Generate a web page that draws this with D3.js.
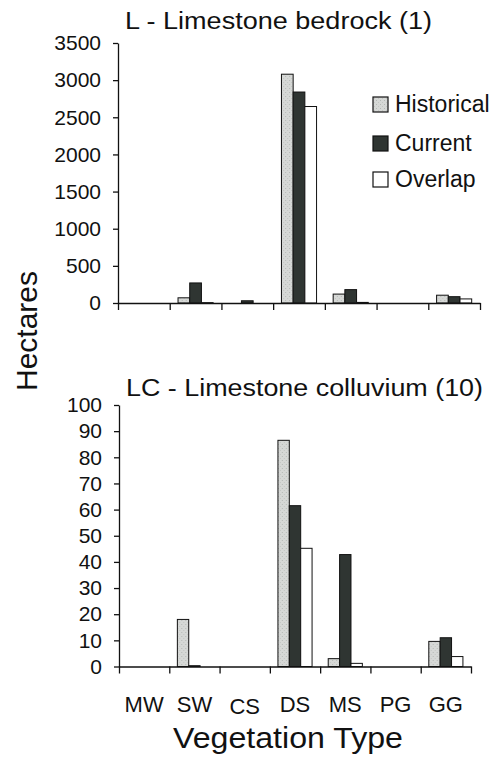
<!DOCTYPE html>
<html>
<head>
<meta charset="utf-8">
<script src="https://cdn.jsdelivr.net/npm/d3@7"></script>
<style>
  html, body { margin: 0; padding: 0; background: #fff; }
  svg { display: block; font-family: "Liberation Sans", Arial, sans-serif; }
</style>
</head>
<body>
<svg id="chart" width="496" height="770"></svg>
<script>
// ---- data ----
const categories = ["MW", "SW", "CS", "DS", "MS", "PG", "GG"];
const seriesNames = ["Historical", "Current", "Overlap"];

const bedrockHistorical = [0, 70, 0, 3080, 120, 0, 105];
const bedrockCurrent    = [0, 270, 30, 2840, 180, 0, 85];
const bedrockOverlap    = [0, 5, 0, 2645, 8, 0, 55];
const bedrockTicks = [0, 500, 1000, 1500, 2000, 2500, 3000, 3500];

const colluviumHistorical = [0, 18, 0, 86.5, 3, 0, 9.6];
const colluviumCurrent    = [0, 0.3, 0, 61.5, 42.8, 0, 11];
const colluviumOverlap    = [0, 0, 0, 45.2, 1.2, 0, 3.8];
const colluviumTicks = [0, 10, 20, 30, 40, 50, 60, 70, 80, 90, 100];

const titleTop = "L - Limestone bedrock (1)";
const titleBottom = "LC - Limestone colluvium (10)";

const fills = { Historical: "url(#stipple)", Current: "#2f3532", Overlap: "#ffffff" };

const svg = d3.select("#chart");

// stipple pattern for historical bars
const defs = svg.append("defs");
const pat = defs.append("pattern").attr("id", "stipple")
  .attr("patternUnits", "userSpaceOnUse").attr("width", 4).attr("height", 4);
pat.append("rect").attr("width", 4).attr("height", 4).attr("fill", "#d6d8d6");
pat.append("rect").attr("x", 0).attr("y", 0).attr("width", 1).attr("height", 1).attr("fill", "#b4b8b5");
pat.append("rect").attr("x", 2).attr("y", 2).attr("width", 1).attr("height", 1).attr("fill", "#c2c5c2");

function drawPanel(cfg) {
  const rows = categories.map((c, i) => ({
    cat: c,
    values: [cfg.hist[i], cfg.cur[i], cfg.ovl[i]]
  }));
  const x0 = d3.scaleBand().domain(categories).range([cfg.left, cfg.right]).paddingInner(0).paddingOuter(0);
  const x1 = d3.scaleBand().domain(seriesNames).range([0, x0.bandwidth()]).paddingInner(0).paddingOuter(0.71);
  const y = d3.scaleLinear().domain([0, cfg.max]).range([cfg.bottom, cfg.top]);

  const g = svg.append("g");

  // bars
  const grp = g.selectAll("g.cat").data(rows).join("g")
    .attr("class", "cat")
    .attr("transform", d => `translate(${x0(d.cat)},0)`);
  grp.selectAll("rect").data(d => d.values.map((v, k) => ({ s: seriesNames[k], v })))
    .join("rect")
    .attr("x", d => x1(d.s))
    .attr("width", x1.bandwidth())
    .attr("y", d => y(d.v))
    .attr("height", d => y(0) - y(d.v))
    .attr("fill", d => fills[d.s])
    .attr("stroke", "#111")
    .attr("stroke-width", 1);

  // y axis
  const ya = g.append("g").attr("transform", `translate(${cfg.left},0)`)
    .call(d3.axisLeft(y).tickValues(cfg.ticks).tickFormat(d3.format("d"))
      .tickSize(5).tickSizeOuter(0).tickPadding(12));
  ya.attr("font-size", 21).attr("font-family", "Liberation Sans, Arial, sans-serif");
  ya.selectAll("text").attr("fill", "#111");
  ya.selectAll("path, line").attr("stroke", "#111").attr("stroke-width", 1.3);

  // x axis line and boundary ticks
  const xb = d3.scaleLinear().domain([0, categories.length]).range([cfg.left, cfg.right]);
  const xa = g.append("g").attr("transform", `translate(0,${cfg.bottom})`)
    .call(d3.axisBottom(xb).tickValues(d3.range(categories.length + 1)).tickFormat("").tickSize(7).tickSizeOuter(0));
  xa.selectAll("path, line").attr("stroke", "#111").attr("stroke-width", 1.3);

  // title
  g.append("text")
    .attr("x", cfg.titleX).attr("y", cfg.titleY)
    .attr("font-size", 23).attr("fill", "#111")
    .attr("textLength", cfg.titleW).attr("lengthAdjust", "spacingAndGlyphs")
    .text(cfg.title);

  if (cfg.labels) {
    const la = g.append("g").attr("transform", `translate(0,${cfg.bottom})`)
      .call(d3.axisBottom(x0).tickSize(0).tickPadding(0));
    la.select("path").remove();
    la.attr("font-size", 22).attr("font-family", "Liberation Sans, Arial, sans-serif");
    la.selectAll("text")
      .attr("fill", "#111")
      .attr("dy", null)
      .attr("y", d => d === "CS" ? 47.5 : 45);
  }
  return { x0, y };
}

drawPanel({
  left: 118, right: 480, top: 43, bottom: 303, max: 3500, ticks: bedrockTicks,
  hist: bedrockHistorical, cur: bedrockCurrent, ovl: bedrockOverlap,
  title: titleTop, titleX: 125, titleY: 29, titleW: 307, labels: false
});

drawPanel({
  left: 119, right: 471, top: 405, bottom: 666.5, max: 100, ticks: colluviumTicks,
  hist: colluviumHistorical, cur: colluviumCurrent, ovl: colluviumOverlap,
  title: titleBottom, titleX: 126, titleY: 396, titleW: 357, labels: true
});

// legend
const legend = svg.append("g");
const legY = [97, 136, 172];
seriesNames.forEach((s, i) => {
  legend.append("rect").attr("x", 373).attr("y", legY[i]).attr("width", 15).attr("height", 15)
    .attr("fill", fills[s]).attr("stroke", "#111").attr("stroke-width", 1.2);
  legend.append("text").attr("x", 395).attr("y", legY[i] + 15)
    .attr("font-size", 23).attr("fill", "#111").text(s);
});

// axis titles
svg.append("text")
  .attr("transform", "translate(37,331) rotate(-90)")
  .attr("text-anchor", "middle").attr("font-size", 30).attr("fill", "#111")
  .text("Hectares");

svg.append("text")
  .attr("x", 288).attr("y", 748)
  .attr("text-anchor", "middle").attr("font-size", 30).attr("fill", "#111")
  .attr("textLength", 230).attr("lengthAdjust", "spacingAndGlyphs")
  .text("Vegetation Type");
</script>
</body>
</html>
